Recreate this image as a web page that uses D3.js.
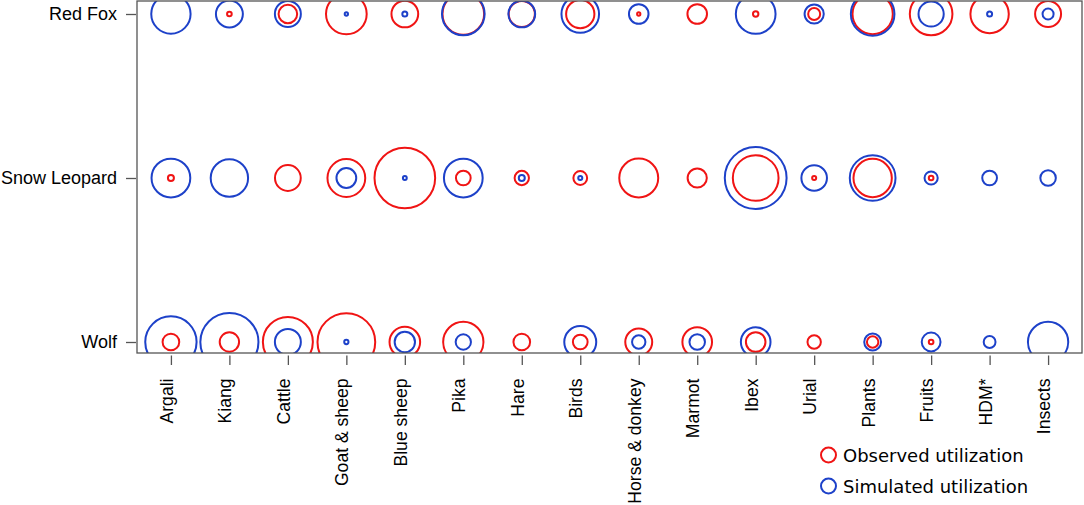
<!DOCTYPE html>
<html>
<head>
<meta charset="utf-8">
<script src="https://cdn.jsdelivr.net/npm/d3@7/dist/d3.min.js"></script>
<style>
  html, body { margin: 0; padding: 0; background: #fff; }
  svg { display: block; }
</style>
</head>
<body>
<svg id="chart" width="1084" height="505"></svg>
<script>
// ---- data (values in relative circle-size units) ----
const categories = ["Argali","Kiang","Cattle","Goat & sheep","Blue sheep","Pika","Hare","Birds",
  "Horse & donkey","Marmot","Ibex","Urial","Plants","Fruits","HDM*","Insects"];
const predators = ["Red Fox","Snow Leopard","Wolf"];

const observedRedFox      = [0, 2.4, 9.6, 21, 13.8, 21.5, 13.5, 14.6, 1.7, 10.1, 2.8, 6.2, 20.8, 22, 19.8, 13.4];
const observedSnowLeopard = [3.1, 0, 13.3, 19.5, 31.3, 7.6, 7.4, 7.1, 20.1, 9.9, 23.6, 2.1, 19.8, 2.4, 0, 0];
const observedWolf        = [8.6, 10, 25.8, 29.8, 15.8, 20.8, 8.6, 7.6, 13.9, 15.3, 10.1, 6.9, 5.9, 2.4, 0, 0];

const simulatedRedFox      = [20.3, 13.9, 13.4, 1.7, 2.6, 22, 13.8, 19.4, 10.1, 0, 20.5, 9.9, 22.5, 13, 2.6, 5.7];
const simulatedSnowLeopard = [20, 19.3, 0, 10.2, 2, 20, 3.1, 2.1, 0, 0, 31.9, 13.2, 23.6, 6.8, 7.6, 8.0];
const simulatedWolf        = [26.5, 30, 13.4, 2.2, 10.5, 7.9, 0, 16.5, 6.9, 8, 15.3, 0, 8.7, 9.7, 6.1, 20.8];

const legendLabels = ["Observed utilization", "Simulated utilization"];

// ---- layout ----
const plot = { left: 137, right: 1082, top: 1, bottom: 353 };
const RED = "#f01414", BLUE = "#1d41c9", AXIS = "#555";

const svg = d3.select("#chart");

const x = d3.scalePoint().domain(categories).range([plot.left, plot.right]).padding(0.58);
const y = d3.scalePoint().domain(predators).range([14, 342]);
const r = d3.scaleLinear().domain([0, 32]).range([0, 31]);

const observed = { "Red Fox": observedRedFox, "Snow Leopard": observedSnowLeopard, "Wolf": observedWolf };
const simulated = { "Red Fox": simulatedRedFox, "Snow Leopard": simulatedSnowLeopard, "Wolf": simulatedWolf };

function rows(src, type) {
  const out = [];
  predators.forEach(p => src[p].forEach((v, i) => {
    if (v > 0) out.push({ predator: p, category: categories[i], value: v, type });
  }));
  return out;
}
const points = rows(observed, "obs").concat(rows(simulated, "sim"));

// clip
svg.append("defs").append("clipPath").attr("id", "clip")
  .append("rect")
  .attr("x", plot.left).attr("y", plot.top)
  .attr("width", plot.right - plot.left).attr("height", plot.bottom - plot.top);

svg.append("g").attr("clip-path", "url(#clip)")
  .selectAll("circle").data(points).join("circle")
  .attr("cx", d => x(d.category))
  .attr("cy", d => y(d.predator))
  .attr("r", d => r(d.value))
  .attr("fill", "none")
  .attr("stroke", d => d.type === "obs" ? RED : BLUE)
  .attr("stroke-width", 2);

// box
svg.append("rect")
  .attr("x", plot.left).attr("y", plot.top)
  .attr("width", plot.right - plot.left).attr("height", plot.bottom - plot.top)
  .attr("fill", "none").attr("stroke", AXIS).attr("stroke-width", 1.3);

// x axis
const axisY = plot.bottom + 2.5;
const gx = svg.append("g").attr("transform", `translate(0,${axisY})`)
  .call(d3.axisBottom(x).tickSize(9.5).tickSizeOuter(0));
gx.select(".domain").remove();
gx.selectAll(".tick line").attr("stroke", AXIS).attr("stroke-width", 1.3);
gx.selectAll(".tick text")
  .attr("transform", "rotate(-90)")
  .attr("x", -(378.5 - axisY))
  .attr("y", 1.5)
  .attr("dy", 0)
  .attr("text-anchor", "end")
  .attr("fill", "#000")
  .style("font-family", "'Liberation Sans', Arial, sans-serif")
  .style("font-size", "17.6px");

// y axis
const gy = svg.append("g").attr("transform", `translate(${plot.left - 1},0)`)
  .call(d3.axisLeft(y).tickSize(10).tickPadding(9).tickSizeOuter(0));
gy.select(".domain").remove();
gy.selectAll(".tick line").attr("stroke", AXIS).attr("stroke-width", 1.3);
gy.selectAll(".tick text")
  .attr("fill", "#000")
  .style("font-family", "'Liberation Sans', Arial, sans-serif")
  .style("font-size", "18px");

// legend
const legend = svg.append("g");
const legendY = d3.scalePoint().domain(legendLabels).range([455, 486]);
legend.selectAll("circle").data(legendLabels).join("circle")
  .attr("cx", 828.5).attr("cy", d => legendY(d)).attr("r", 7.5)
  .attr("fill", "none").attr("stroke", (d, i) => i === 0 ? RED : BLUE).attr("stroke-width", 2);
legend.selectAll("text").data(legendLabels).join("text")
  .attr("x", 843).attr("y", d => legendY(d) + 7)
  .text(d => d)
  .style("font-family", "'DejaVu Sans', Verdana, sans-serif")
  .style("font-size", "18px")
  .attr("fill", "#000");
</script>
</body>
</html>
